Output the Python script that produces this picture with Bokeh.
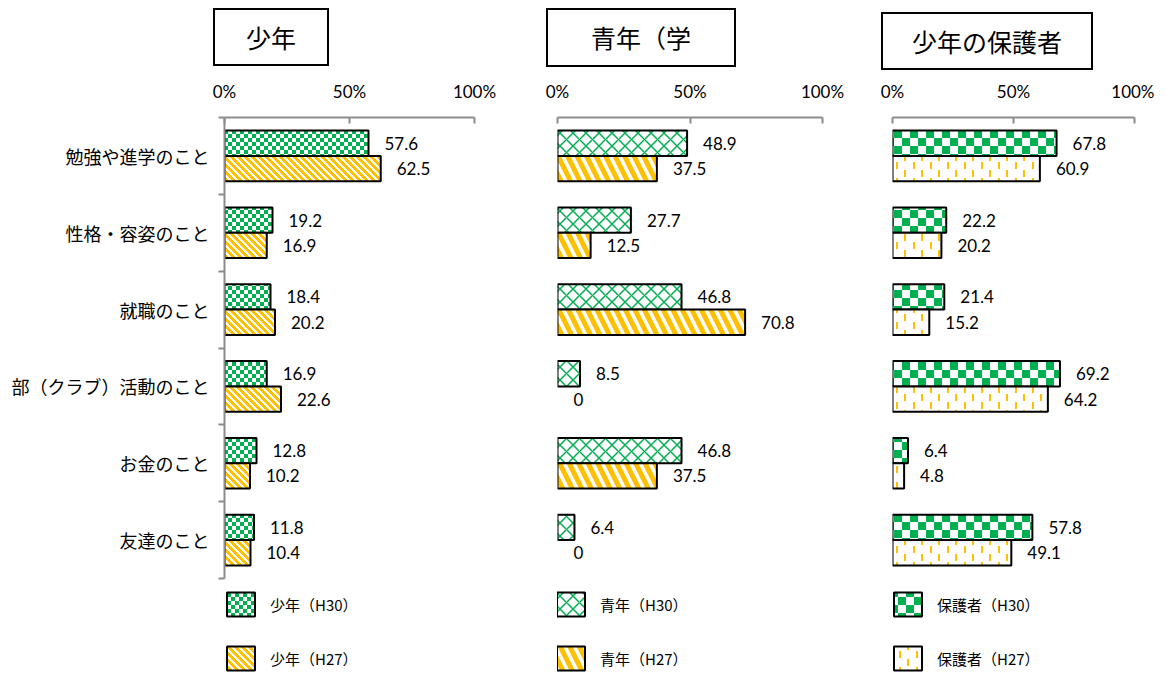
import zlib
import struct
import base64

from bokeh.plotting import figure
from bokeh.models import (Range1d, FixedTicker, Legend, LegendItem, Div,
                          ColumnDataSource, CDSView, BooleanFilter, ImageURLTexture)
from bokeh.layouts import row, column
from bokeh.embed import file_html
from bokeh.resources import INLINE
from bokeh.core.properties import value

# ---------------- data ----------------
categories = ["勉強や進学のこと", "性格・容姿のこと", "就職のこと",
              "部（クラブ）活動のこと", "お金のこと", "友達のこと"]
tick_values = [0, 50, 100]
tick_labels = ["0%", "50%", "100%"]
titles = ["少年", "青年（学", "少年の保護者"]

shonen_h30 = [57.6, 19.2, 18.4, 16.9, 12.8, 11.8]
shonen_h27 = [62.5, 16.9, 20.2, 22.6, 10.2, 10.4]
seinen_h30 = [48.9, 27.7, 46.8, 8.5, 46.8, 6.4]
seinen_h27 = [37.5, 12.5, 70.8, 0, 37.5, 0]
hogosha_h30 = [67.8, 22.2, 21.4, 69.2, 6.4, 57.8]
hogosha_h27 = [60.9, 20.2, 15.2, 64.2, 4.8, 49.1]

legend_h30 = ["少年（H30）", "青年（H30）", "保護者（H30）"]
legend_h27 = ["少年（H27）", "青年（H27）", "保護者（H27）"]

# ---------------- style / layout ----------------
GREEN = "#00B050"
ORANGE = "#FFC000"
GREEN_RGB = (0x00, 0xB0, 0x50)
ORANGE_RGB = (0xFF, 0xC0, 0x00)
WHITE_RGB = (255, 255, 255)
GRAY = "#8C8C8C"
JP = "Noto Sans CJK JP"
NUM = "Lato"
BAR_H = 0.33
n = len(categories)
centers = [i + 0.5 for i in range(n)]

TITLE_H = 74          # height of the title strip
MAIN_H = 599          # height of the chart part
TOP_BORDER = 43       # space for the top axis
CAT_PX = 461 / n      # pixels per category row
FRAME_H = MAIN_H - TOP_BORDER
Y_END = FRAME_H / CAT_PX


def png_url(w, h, fn):
    """Small RGBA png tile; fn(x, y) -> rgb tuple."""
    raw = b""
    for y in range(h):
        line = b"\x00"
        for x in range(w):
            line += bytes(fn(x, y) + (255,))
        raw += line

    def chunk(tag, data):
        c = struct.pack(">I", len(data)) + tag + data
        return c + struct.pack(">I", zlib.crc32(tag + data) & 0xFFFFFFFF)

    ihdr = struct.pack(">IIBBBBB", w, h, 8, 6, 0, 0, 0)
    png = (b"\x89PNG\r\n\x1a\n" + chunk(b"IHDR", ihdr) +
           chunk(b"IDAT", zlib.compress(raw)) + chunk(b"IEND", b""))
    return "data:image/png;base64," + base64.b64encode(png).decode()


def texture(url, scale):
    tex = ImageURLTexture(url=url, repetition="repeat")
    return dict(hatch_pattern=value("tex"), hatch_scale=scale, hatch_weight=1,
                hatch_extra={"tex": tex})


def checker(cell):
    fn = lambda x, y: GREEN_RGB if ((x // cell) + (y // cell)) % 2 == 0 else WHITE_RGB
    return texture(png_url(2 * cell, 2 * cell, fn), 2 * cell)


def stripes(period, on):
    fn = lambda x, y: ORANGE_RGB if (x - y) % period < on else WHITE_RGB
    return texture(png_url(period, period, fn), period)


def staggered_dashes():
    def fn(x, y):
        if x in (0, 1) and 0 <= y <= 6:
            return ORANGE_RGB
        if x in (9, 10) and 8 <= y <= 14:
            return ORANGE_RGB
        return WHITE_RGB
    return texture(png_url(17, 16, fn), 17)


panels = [
    dict(title=titles[0], h30=shonen_h30, h27=shonen_h27, cats=True,
         width=540, bl=224, br=66,
         p30=checker(4),
         p27=stripes(7, 4),
         box=(213, 8, 116, 58), lx=-1),
    dict(title=titles[1], h30=seinen_h30, h27=seinen_h27, cats=False,
         width=330, bl=17, br=48,
         p30=dict(hatch_pattern="diagonal_cross", hatch_scale=13, hatch_weight=1.5),
         p27=dict(hatch_pattern="left_diagonal_line", hatch_scale=19, hatch_weight=5),
         box=(6, 8, 190, 59), lx=-4),
    dict(title=titles[2], h30=hogosha_h30, h27=hogosha_h27, cats=False,
         width=284, bl=22, br=20,
         p30=checker(8),
         p27=staggered_dashes(),
         box=(11, 12, 212, 58), lx=-2),
]


def make_title(cfg):
    left, top, bw, bh = cfg["box"]
    html = (f'<div style="box-sizing:border-box;margin:{top}px 0 0 {left}px;'
            f'width:{bw}px;height:{bh}px;border:2px solid #000;background:#fff;'
            f'display:flex;align-items:center;justify-content:center;'
            f"font-family:'{JP}';font-size:25px;line-height:1;color:#000;"
            f'">{cfg["title"]}</div>')
    return Div(text=html, width=cfg["width"], height=TITLE_H, margin=0)


def make_panel(idx, cfg):
    p = figure(width=cfg["width"], height=MAIN_H,
               x_range=Range1d(0, 100), y_range=Range1d(Y_END, 0),
               x_axis_location="above",
               y_axis_location="left" if cfg["cats"] else None,
               output_backend="svg", toolbar_location=None,
               min_border_left=cfg["bl"], min_border_right=cfg["br"],
               min_border_top=TOP_BORDER, min_border_bottom=0)
    p.outline_line_color = None
    p.xgrid.visible = False
    p.ygrid.visible = False

    ax = p.xaxis[0]
    ax.ticker = FixedTicker(ticks=tick_values)
    ax.major_label_overrides = dict(zip(tick_values, tick_labels))
    ax.axis_line_color = GRAY
    ax.axis_line_width = 2
    ax.major_tick_line_color = GRAY
    ax.major_tick_line_width = 2
    ax.major_tick_in = 6
    ax.major_tick_out = 0
    ax.minor_tick_line_color = None
    ax.major_label_standoff = 16
    ax.major_label_text_font = NUM
    ax.major_label_text_font_size = "17px"
    ax.major_label_text_color = "black"

    if cfg["cats"]:
        ay = p.yaxis[0]
        ay.bounds = (0, n)
        ay.ticker = FixedTicker(ticks=centers, minor_ticks=list(range(n + 1)))
        ay.major_label_overrides = dict(zip(centers, categories))
        ay.major_tick_line_color = None
        ay.major_tick_in = 0
        ay.major_tick_out = 0
        ay.minor_tick_line_color = GRAY
        ay.minor_tick_line_width = 2
        ay.minor_tick_in = 0
        ay.minor_tick_out = 6
        ay.axis_line_color = GRAY
        ay.axis_line_width = 2
        ay.major_label_standoff = 9
        ay.major_label_text_font = JP
        ay.major_label_text_font_size = "18px"
        ay.major_label_text_color = "black"

    renderers = []
    for vals, off, col, pat in ((cfg["h30"], -BAR_H / 2, GREEN, cfg["p30"]),
                                (cfg["h27"], BAR_H / 2, ORANGE, cfg["p27"])):
        src = ColumnDataSource(dict(
            y=[c + off for c in centers],
            v=vals,
            lab=[f"{v:g}" for v in vals],
        ))
        view = CDSView(filter=BooleanFilter([v > 0 for v in vals]))
        r = p.hbar(y="y", left=0, right="v", height=BAR_H, source=src, view=view,
                   fill_color="white", line_color="black", line_width=2,
                   hatch_color=col, **pat)
        renderers.append(r)
        p.text(x="v", y="y", text="lab", source=src, x_offset=16,
               text_baseline="middle", text_align="left",
               text_font=value(NUM), text_font_size="17px", text_color="black")

    legend = Legend(items=[LegendItem(label=legend_h30[idx], renderers=[renderers[0]]),
                           LegendItem(label=legend_h27[idx], renderers=[renderers[1]])],
                    location=(cfg["lx"], 0), orientation="vertical",
                    glyph_width=35, glyph_height=30, spacing=24,
                    padding=0, margin=0, label_standoff=12, label_height=30,
                    border_line_color=None, background_fill_alpha=0,
                    label_text_font=JP, label_text_font_size="15px",
                    label_text_color="black")
    p.add_layout(legend)
    return p


cols = [column(make_title(c), make_panel(i, c), spacing=0) for i, c in enumerate(panels)]
layout = row(*cols, spacing=0)

open("out.html", "w").write(file_html(layout, INLINE))
